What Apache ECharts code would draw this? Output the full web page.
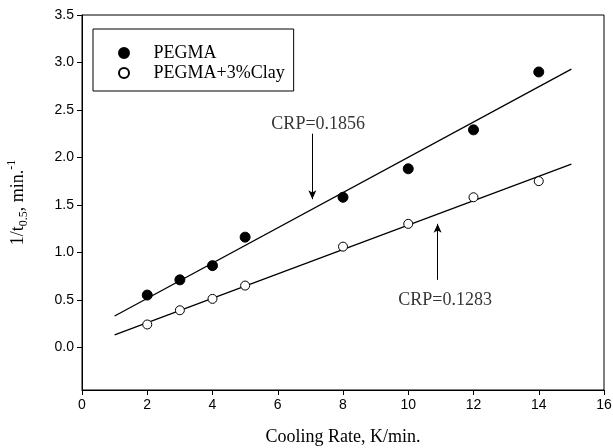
<!DOCTYPE html>
<html>
<head>
<meta charset="utf-8">
<script src="https://cdn.jsdelivr.net/npm/echarts@6/dist/echarts.min.js"></script>
<style>
  html, body { margin: 0; padding: 0; background: #fff; }
  #chart { width: 613px; height: 448px; }
</style>
</head>
<body>
<div id="chart"></div>
<script>
const coolingRates = [2, 3, 4, 5, 8, 10, 12, 14]
const pegmaValues = [0.55, 0.71, 0.86, 1.16, 1.58, 1.88, 2.29, 2.90]
const clayValues = [0.24, 0.39, 0.51, 0.65, 1.06, 1.30, 1.58, 1.75]

// fitted lines (end points)
const pegmaFit = [[1, 0.33], [15, 2.93]]
const clayFit = [[1, 0.13], [15, 1.93]]

// annotations
const notes = [
  { name: 'CRP=0.1856', value: [7.24, 2.35] },
  { name: 'CRP=0.1283', value: [11.13, 0.50] },
]
const arrows = [
  [[7.06, 2.25], [7.06, 1.56]],
  [[10.9, 0.71], [10.9, 1.30]],
]

const yTicks = [0, 0.5, 1.0, 1.5, 2.0, 2.5, 3.0, 3.5]

const serif = 'Liberation Serif'
const sans = 'Liberation Sans'

const chart = echarts.init(document.getElementById('chart'))

chart.setOption({
  backgroundColor: '#fff',
  animation: false,
  grid: {
    left: 82, right: 9, top: 15, bottom: 58,
    outerBoundsMode: 'none',
    show: true, borderColor: '#000', borderWidth: 1,
  },
  legend: {
    orient: 'vertical',
    left: 93, top: 29,
    itemWidth: 31, itemHeight: 10, itemGap: 2,
    padding: [15, 9, 9, 25],
    borderColor: '#000', borderWidth: 1,
    textStyle: { fontFamily: serif, fontSize: 18, color: '#000', padding: [0, 0, 0, 9] },
    data: ['PEGMA', 'PEGMA+3%Clay'],
  },
  xAxis: {
    type: 'value',
    min: 0, max: 16, interval: 2,
    name: 'Cooling Rate, K/min.',
    nameLocation: 'middle', nameGap: 38,
    nameTextStyle: { fontFamily: serif, fontSize: 18, color: '#000' },
    axisLine: { onZero: false, lineStyle: { color: '#000' } },
    axisTick: { inside: false, length: 5, lineStyle: { color: '#000' } },
    axisLabel: { fontFamily: sans, fontSize: 14, color: '#000', margin: 8 },
    splitLine: { show: false },
  },
  yAxis: {
    type: 'value',
    min: -0.45, max: 3.5,
    name: '{m|1/t}{s|0.5}{m|, min.}{p|-1}',
    nameLocation: 'middle', nameGap: 52,
    nameTextStyle: {
      color: '#000',
      rich: {
        m: { fontFamily: serif, fontSize: 18, lineHeight: 24, verticalAlign: 'middle' },
        s: { fontFamily: serif, fontSize: 12, lineHeight: 24, verticalAlign: 'bottom' },
        p: { fontFamily: serif, fontSize: 12, lineHeight: 24, verticalAlign: 'top' },
      },
    },
    axisLine: { show: true, onZero: false, lineStyle: { color: '#000' } },
    axisTick: { show: true, length: 5, customValues: yTicks, lineStyle: { color: '#000' } },
    axisLabel: {
      fontFamily: sans, fontSize: 14, color: '#000', margin: 8,
      customValues: yTicks,
      formatter: (v) => v.toFixed(1),
    },
    splitLine: { show: false },
  },
  series: [
    {
      name: 'PEGMA',
      type: 'scatter',
      symbol: 'circle',
      symbolSize: 10,
      itemStyle: { color: '#000', borderColor: '#000', borderWidth: 1, opacity: 1 },
      data: coolingRates.map((x, i) => [x, pegmaValues[i]]),
      z: 5,
    },
    {
      name: 'PEGMA+3%Clay',
      type: 'scatter',
      symbol: 'circle',
      symbolSize: 9,
      itemStyle: { color: '#fff', borderColor: '#000', borderWidth: 1, opacity: 1 },
      data: coolingRates.map((x, i) => [x, clayValues[i]]),
      z: 5,
    },
    {
      name: 'fitPegma',
      type: 'line',
      data: pegmaFit,
      showSymbol: false, symbol: 'none',
      lineStyle: { color: '#000', width: 1.3 },
      z: 3,
    },
    {
      name: 'fitClay',
      type: 'line',
      data: clayFit,
      showSymbol: false, symbol: 'none',
      lineStyle: { color: '#000', width: 1.3 },
      z: 3,
    },
    {
      name: 'notes',
      type: 'scatter',
      symbolSize: 1,
      itemStyle: { color: 'rgba(0,0,0,0)' },
      data: notes,
      label: {
        show: true, position: 'inside', formatter: '{b}',
        fontFamily: serif, fontSize: 18, color: '#000',
      },
      markLine: {
        silent: true,
        symbol: ['none', 'arrow'],
        symbolSize: [6, 9],
        label: { show: false },
        lineStyle: { color: '#000', width: 1, type: 'solid' },
        data: arrows.map(([a, b]) => [{ coord: a }, { coord: b }]),
      },
    },
  ],
})
</script>
</body>
</html>
